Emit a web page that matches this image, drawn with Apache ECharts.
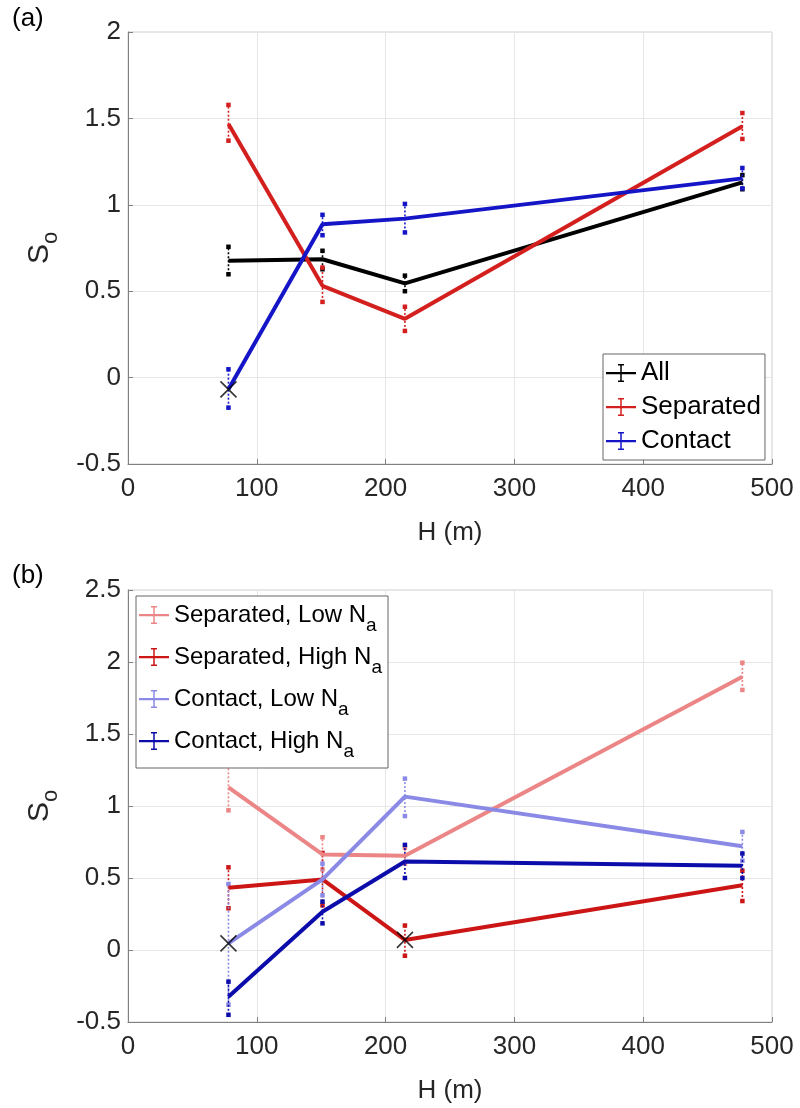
<!DOCTYPE html>
<html><head><meta charset="utf-8">
<script src="https://cdn.jsdelivr.net/npm/echarts@6/dist/echarts.min.js"></script>
<style>html,body{margin:0;padding:0;background:#fff}#c{width:800px;height:1108px}</style>
</head><body><div id="c"></div>
<script>
// ---------- data ----------
const H = [78, 151, 215, 477];
const xTicks = [0, 100, 200, 300, 400, 500];

// panel (a)
const allVals  = [0.676, 0.685, 0.545, 1.130];
const allLow   = [0.598, 0.627, 0.500, 1.090];
const allHigh  = [0.757, 0.734, 0.590, 1.172];
const sepVals  = [1.467, 0.531, 0.340, 1.454];
const sepLow   = [1.371, 0.438, 0.270, 1.381];
const sepHigh  = [1.578, 0.637, 0.410, 1.531];
const conVals  = [-0.068, 0.888, 0.920, 1.153];
const conLow   = [-0.174, 0.824, 0.840, 1.095];
const conHigh  = [0.048, 0.942, 1.005, 1.213];
const markersA = [[78, -0.068]];

// panel (b)
const sepLoNaVals = [1.130, 0.664, 0.655, 1.898];
const sepLoNaLow  = [0.970, 0.560, 0.600, 1.806];
const sepLoNaHigh = [1.280, 0.783, 0.710, 1.995];
const sepHiNaVals = [0.433, 0.490, 0.070, 0.450];
const sepHiNaLow  = [0.290, 0.310, -0.040, 0.340];
const sepHiNaHigh = [0.574, 0.674, 0.170, 0.550];
const conLoNaVals = [0.046, 0.490, 1.065, 0.720];
const conLoNaLow  = [-0.380, 0.380, 0.930, 0.620];
const conLoNaHigh = [0.458, 0.600, 1.190, 0.820];
const conHiNaVals = [-0.324, 0.266, 0.615, 0.585];
const conHiNaLow  = [-0.450, 0.185, 0.500, 0.500];
const conHiNaHigh = [-0.220, 0.336, 0.730, 0.670];
const markersB = [[78, 0.046], [215, 0.070]];

const namesA = ['All', 'Separated', 'Contact'];
const namesB = ['Separated, Low N_a', 'Separated, High N_a', 'Contact, Low N_a', 'Contact, High N_a'];

// ---------- styling ----------
const FONT = '"Liberation Sans", Arial, Helvetica, sans-serif';
const colA = ['#000000', '#d41f1f', '#1515c8'];
const colB = ['#ec8686', '#cc1616', '#8a8ae6', '#0c0caa'];
const ICON = 'path://M0,8h30v2.2H0z M14.25,0h1.5v18h-1.5z M12,0h6v1.6h-6z M12,16.4h6v1.6h-6z';

function errRender(color) {
  return function (params, api) {
    const x = api.value(0), lo = api.value(1), hi = api.value(2);
    const p1 = api.coord([x, lo]), p2 = api.coord([x, hi]);
    const s = 4.5;
    return {type: 'group', children: [
      {type: 'line', shape: {x1: p1[0], y1: p1[1], x2: p2[0], y2: p2[1]},
       style: {stroke: color, lineWidth: 1.6, lineDash: [2, 2]}},
      {type: 'rect', shape: {x: p1[0] - s / 2, y: p1[1] - s / 2, width: s, height: s}, style: {fill: color}},
      {type: 'rect', shape: {x: p2[0] - s / 2, y: p2[1] - s / 2, width: s, height: s}, style: {fill: color}}
    ]};
  };
}

function lineSeries(name, vals, color, gi) {
  return {type: 'line', name: name, xAxisIndex: gi, yAxisIndex: gi,
    data: H.map((h, i) => [h, vals[i]]), symbol: 'none',
    lineStyle: {color: color, width: 4}, itemStyle: {color: color}, z: 3, animation: false};
}
function errSeries(lo, hi, color, gi) {
  return {type: 'custom', xAxisIndex: gi, yAxisIndex: gi,
    data: H.map((h, i) => [h, lo[i], hi[i]]), encode: {x: 0, y: [1, 2]},
    renderItem: errRender(color), z: 2, animation: false, silent: true};
}
function markerSeries(pts, gi) {
  return {type: 'scatter', xAxisIndex: gi, yAxisIndex: gi, data: pts,
    symbol: 'path://M0,0L10,10M10,0L0,10', symbolSize: 16,
    itemStyle: {color: 'rgba(0,0,0,0)', borderColor: '#000', borderWidth: 1.6},
    z: 5, animation: false, silent: true};
}

function xAxis(gi) {
  return {type: 'value', gridIndex: gi, min: 0, max: 500, interval: 100,
    axisLine: {show: true, onZero: false, lineStyle: {color: '#808080', width: 1}},
    axisTick: {show: true, inside: true, length: 5, lineStyle: {color: '#808080'}},
    axisLabel: {fontSize: 26, color: '#262626', margin: 12, fontFamily: FONT},
    splitLine: {show: true, lineStyle: {color: '#e6e6e6', width: 1}},
    name: 'H (m)', nameLocation: 'middle', nameGap: 56,
    nameTextStyle: {fontSize: 26, color: '#262626', fontFamily: FONT}};
}
function yAxis(gi, max) {
  return {type: 'value', gridIndex: gi, min: -0.5, max: max, interval: 0.5,
    axisLine: {show: true, onZero: false, lineStyle: {color: '#808080', width: 1}},
    axisTick: {show: true, inside: true, length: 5, lineStyle: {color: '#808080'}},
    axisLabel: {fontSize: 26, color: '#262626', margin: 7, fontFamily: FONT},
    splitLine: {show: true, lineStyle: {color: '#e6e6e6', width: 1}},
    name: '{s|S}{o|o}', nameLocation: 'middle', nameGap: 66, nameRotate: 90,
    nameTextStyle: {fontFamily: FONT, color: '#262626',
      rich: {s: {fontSize: 30, fontFamily: FONT, color: '#262626', lineHeight: 44},
             o: {fontSize: 22, fontFamily: FONT, color: '#262626', verticalAlign: 'bottom', lineHeight: 9}}}};
}

const chart = echarts.init(document.getElementById('c'), null, {renderer: 'canvas'});
chart.setOption({
  backgroundColor: '#fff',
  animation: false,
  grid: [
    {left: 128, top: 32, width: 644, height: 432, show: true, borderColor: '#d0d0d0', borderWidth: 1, containLabel: false, outerBoundsMode: 'none'},
    {left: 128, top: 590, width: 644, height: 432, show: true, borderColor: '#d0d0d0', borderWidth: 1, containLabel: false, outerBoundsMode: 'none'}
  ],
  xAxis: [xAxis(0), xAxis(1)],
  yAxis: [yAxis(0, 2), yAxis(1, 2.5)],
  legend: [
    {data: namesA.map(n => ({name: n, icon: ICON})), orient: 'vertical', left: 603, top: 354,
     padding: [5, 4, 5, 3], itemGap: 6, itemWidth: 30, itemHeight: 18, selectedMode: false,
     borderColor: '#666', borderWidth: 1, backgroundColor: '#fff',
     textStyle: {fontSize: 26, color: '#000', fontFamily: FONT, lineHeight: 28}},
    {data: namesB.map(n => ({name: n, icon: ICON})), orient: 'vertical', left: 136, top: 596,
     padding: [7, 6, 7, 3], itemGap: 10, itemWidth: 30, itemHeight: 18, selectedMode: false,
     borderColor: '#666', borderWidth: 1, backgroundColor: '#fff',
     formatter: function (name) { const p = name.split('_'); return '{m|' + p[0] + '}{s|' + p[1] + '}'; },
     textStyle: {fontFamily: FONT, color: '#000',
       rich: {m: {fontSize: 24, fontFamily: FONT, color: '#000', lineHeight: 40},
              s: {fontSize: 19, fontFamily: FONT, color: '#000', verticalAlign: 'bottom', lineHeight: 17}}}}
  ],
  graphic: [
    {type: 'text', left: 12, top: 6, style: {text: '(a)', fontSize: 26, fill: '#000', fontFamily: FONT}},
    {type: 'text', left: 12, top: 563, style: {text: '(b)', fontSize: 26, fill: '#000', fontFamily: FONT}}
  ],
  series: [
    errSeries(allLow, allHigh, colA[0], 0),
    errSeries(sepLow, sepHigh, colA[1], 0),
    errSeries(conLow, conHigh, colA[2], 0),
    lineSeries(namesA[0], allVals, colA[0], 0),
    lineSeries(namesA[1], sepVals, colA[1], 0),
    lineSeries(namesA[2], conVals, colA[2], 0),
    markerSeries(markersA, 0),
    errSeries(sepLoNaLow, sepLoNaHigh, colB[0], 1),
    errSeries(sepHiNaLow, sepHiNaHigh, colB[1], 1),
    errSeries(conLoNaLow, conLoNaHigh, colB[2], 1),
    errSeries(conHiNaLow, conHiNaHigh, colB[3], 1),
    lineSeries(namesB[0], sepLoNaVals, colB[0], 1),
    lineSeries(namesB[1], sepHiNaVals, colB[1], 1),
    lineSeries(namesB[2], conLoNaVals, colB[2], 1),
    lineSeries(namesB[3], conHiNaVals, colB[3], 1),
    markerSeries(markersB, 1)
  ]
});
</script>
</body></html>
